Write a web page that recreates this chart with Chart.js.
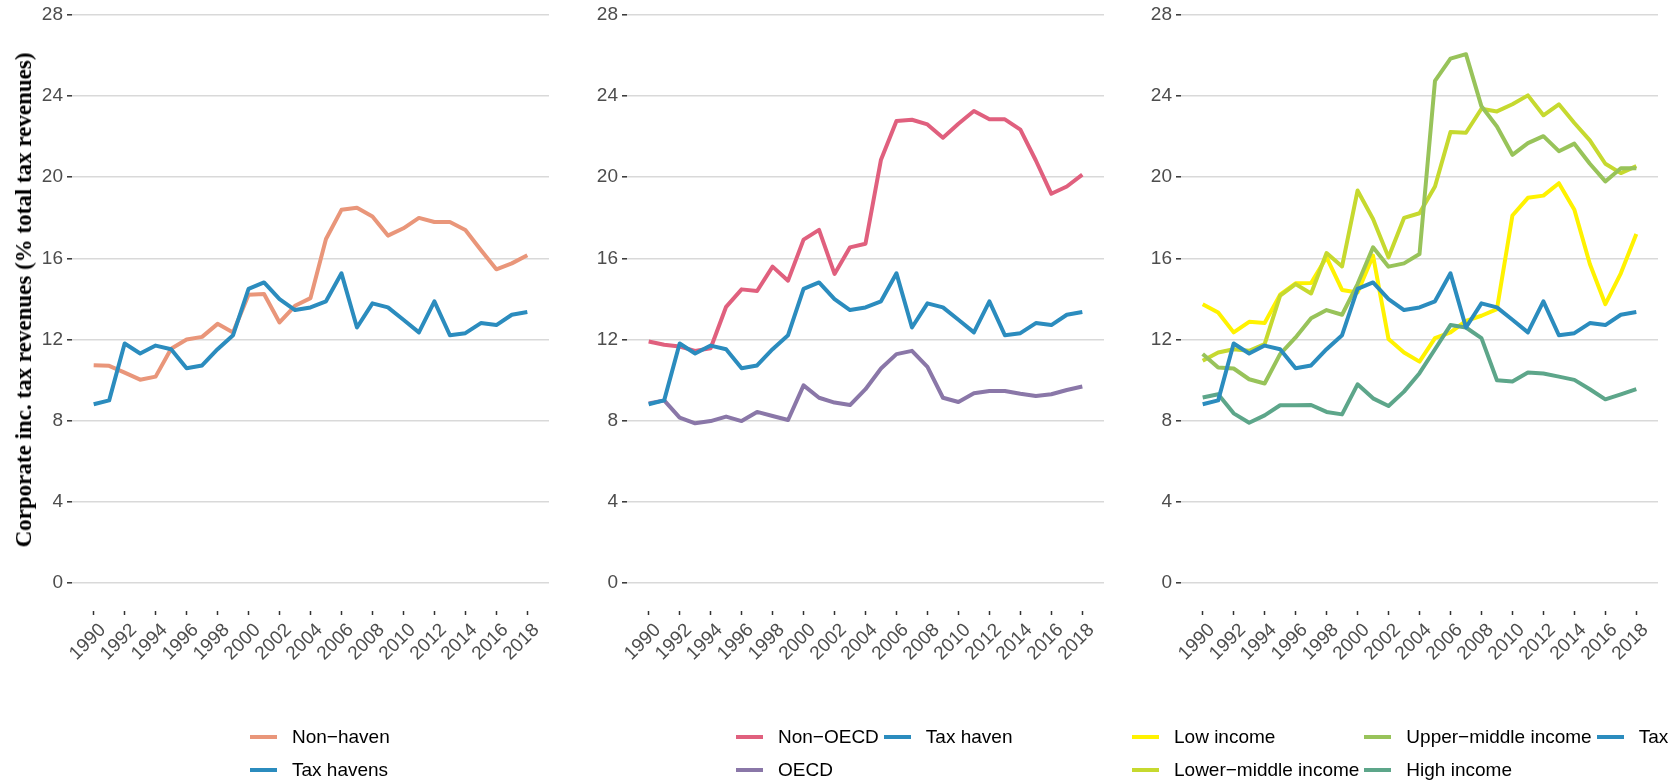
<!DOCTYPE html>
<html>
<head>
<meta charset="utf-8">
<script src="https://cdn.jsdelivr.net/npm/chart.js@4.4.1/dist/chart.umd.min.js"></script>
<style>
  html, body { margin: 0; padding: 0; background: #fff; }
  body { width: 1680px; height: 784px; position: relative; overflow: hidden; font-family: "Liberation Sans", Arial, sans-serif; }
  canvas { position: absolute; top: 0; }
  .ytitle { position: absolute; left: 24px; top: 300px; transform: translate(-50%, -50%) rotate(-90deg);
            font-family: "Liberation Serif", serif; font-weight: bold; font-size: 23px; white-space: nowrap; color: #000; }
  .legend { position: absolute; top: 720px; display: grid; grid-template-rows: 33px 33px; grid-auto-flow: column;
            grid-auto-columns: max-content; column-gap: 5px; font-size: 19px; color: #000; overflow: hidden; }
  .item { display: flex; align-items: center; white-space: nowrap; }
  .swatch { width: 27px; height: 4px; margin-right: 15px; flex: none; }
</style>
</head>
<body>
<canvas id="p1" width="549" height="784" style="left:0px"></canvas>
<canvas id="p2" width="549" height="784" style="left:555px"></canvas>
<canvas id="p3" width="549" height="784" style="left:1109px"></canvas>
<div class="ytitle">Corporate inc. tax revenues (% total tax revenues)</div>
<div class="legend" id="lg1" style="left:250px"></div>
<div class="legend" id="lg2" style="left:736px"></div>
<div class="legend" id="lg3" style="left:1132px; width:537px"></div>
<script>
var years = [1990, 1991, 1992, 1993, 1994, 1995, 1996, 1997, 1998, 1999, 2000, 2001, 2002, 2003, 2004,
             2005, 2006, 2007, 2008, 2009, 2010, 2011, 2012, 2013, 2014, 2015, 2016, 2017, 2018];
var yearTicks = [1990, 1992, 1994, 1996, 1998, 2000, 2002, 2004, 2006, 2008, 2010, 2012, 2014, 2016, 2018];
var yTicks = [0, 4, 8, 12, 16, 20, 24, 28];

// panel 1
var nonHaven = [10.73, 10.70, 10.37, 10.02, 10.17, 11.54, 12.00, 12.13, 12.77, 12.35, 14.20, 14.24, 12.84, 13.66, 14.04,
                16.95, 18.39, 18.49, 18.06, 17.12, 17.48, 17.99, 17.79, 17.79, 17.40, 16.41, 15.46, 15.75, 16.15];
var taxHaven = [8.81, 9.00, 11.80, 11.31, 11.70, 11.52, 10.58, 10.72, 11.52, 12.21, 14.49, 14.81, 13.99, 13.45, 13.58,
                13.88, 15.26, 12.59, 13.78, 13.58, 12.97, 12.35, 13.88, 12.21, 12.31, 12.81, 12.71, 13.22, 13.35];
// panel 2
var nonOecd = [11.90, 11.74, 11.65, 11.44, 11.57, 13.61, 14.47, 14.39, 15.59, 14.90, 16.92, 17.40, 15.23, 16.54, 16.72,
               20.86, 22.77, 22.83, 22.60, 21.94, 22.63, 23.26, 22.85, 22.85, 22.34, 20.82, 19.18, 19.54, 20.12];
var oecd = [8.85, 9.00, 8.15, 7.87, 7.98, 8.20, 7.98, 8.43, 8.23, 8.03, 9.74, 9.13, 8.89, 8.77, 9.55,
            10.57, 11.28, 11.44, 10.65, 9.13, 8.92, 9.35, 9.46, 9.46, 9.33, 9.22, 9.30, 9.51, 9.68];
// panel 3
var lowIncome = [13.74, 13.33, 12.35, 12.87, 12.81, 14.21, 14.77, 14.78, 16.05, 14.44, 14.32, 16.13, 12.02, 11.36, 10.91,
                 12.07, 12.35, 12.92, 13.17, 13.50, 18.11, 18.98, 19.09, 19.70, 18.39, 15.72, 13.74, 15.26, 17.20];
var lowerMiddle = [10.95, 11.36, 11.52, 11.44, 11.77, 14.16, 14.73, 14.27, 16.26, 15.60, 19.34, 17.94, 16.05, 17.99, 18.22,
                   19.54, 22.22, 22.19, 23.37, 23.24, 23.59, 24.03, 23.05, 23.59, 22.67, 21.81, 20.66, 20.20, 20.54];
var upperMiddle = [11.28, 10.62, 10.57, 10.04, 9.83, 11.28, 12.10, 13.05, 13.45, 13.22, 14.73, 16.54, 15.59, 15.75, 16.21,
                   24.74, 25.84, 26.06, 23.49, 22.50, 21.10, 21.68, 22.02, 21.28, 21.65, 20.66, 19.79, 20.44, 20.44];
var highIncome = [9.14, 9.30, 8.36, 7.90, 8.26, 8.76, 8.76, 8.77, 8.43, 8.31, 9.79, 9.10, 8.72, 9.43, 10.34,
                  11.52, 12.71, 12.59, 12.07, 9.99, 9.93, 10.37, 10.32, 10.17, 10.01, 9.55, 9.05, 9.30, 9.55];

var panels = [
    { id: 'p1', legend: 'lg1', series: [
        { label: 'Non\u2212haven', data: nonHaven, color: '#e9967a' },
        { label: 'Tax havens', data: taxHaven, color: '#2b8cbe' }
    ]},
    { id: 'p2', legend: 'lg2', series: [
        { label: 'Non\u2212OECD', data: nonOecd, color: '#e0607e' },
        { label: 'OECD', data: oecd, color: '#8a77a8' },
        { label: 'Tax haven', data: taxHaven, color: '#2b8cbe' }
    ]},
    { id: 'p3', legend: 'lg3', series: [
        { label: 'Low income', data: lowIncome, color: '#fff200' },
        { label: 'Lower\u2212middle income', data: lowerMiddle, color: '#c6d92f' },
        { label: 'Upper\u2212middle income', data: upperMiddle, color: '#98c35a' },
        { label: 'High income', data: highIncome, color: '#5da68a' },
        { label: 'Tax haven', data: taxHaven, color: '#2b8cbe' }
    ]}
];

var tickFont = { family: 'Liberation Sans', size: 19 };

panels.forEach(function (panel) {
    var n = panel.series.length;
    var datasets = panel.series.map(function (s, i) {
        return {
            label: s.label,
            data: years.map(function (yr, k) { return { x: yr, y: s.data[k] }; }),
            borderColor: s.color,
            backgroundColor: s.color,
            borderWidth: 4,
            pointRadius: 0,
            tension: 0,
            borderCapStyle: 'butt',
            borderJoinStyle: 'round',
            order: n - i // last series drawn on top, like ggplot
        };
    });

    new Chart(document.getElementById(panel.id), {
        type: 'line',
        data: { datasets: datasets },
        options: {
            responsive: false,
            animation: false,
            layout: { padding: 0 },
            plugins: {
                legend: { display: false },
                tooltip: { enabled: false }
            },
            scales: {
                x: {
                    type: 'linear',
                    min: 1988.6,
                    max: 2019.4,
                    afterBuildTicks: function (s) { s.ticks = yearTicks.map(function (v) { return { value: v }; }); },
                    afterFit: function (s) { s.height = 173; s.paddingLeft = 0; s.paddingRight = 0; },
                    border: { display: false },
                    grid: {
                        drawOnChartArea: false,
                        drawTicks: true,
                        tickLength: 4,
                        tickColor: '#333333',
                        tickWidth: 1.5
                    },
                    ticks: {
                        autoSkip: false,
                        maxRotation: 45,
                        minRotation: 45,
                        padding: 4,
                        labelOffset: 9,
                        color: '#4d4d4d',
                        font: tickFont,
                        callback: function (v) { return String(v); }
                    }
                },
                y: {
                    min: -1.38,
                    max: 28.73,
                    afterBuildTicks: function (s) { s.ticks = yTicks.map(function (v) { return { value: v }; }); },
                    afterFit: function (s) { s.width = 72; s.paddingTop = 0; s.paddingBottom = 0; },
                    border: { display: false },
                    grid: {
                        color: '#d9d9d9',
                        lineWidth: 1.6,
                        drawTicks: true,
                        tickLength: 5,
                        tickColor: '#333333',
                        tickWidth: 1.5
                    },
                    ticks: {
                        padding: 4,
                        color: '#4d4d4d',
                        font: tickFont
                    }
                }
            }
        }
    });

    // legend, filled column by column in 2 rows
    var box = document.getElementById(panel.legend);
    panel.series.forEach(function (s) {
        var item = document.createElement('div');
        item.className = 'item';
        var sw = document.createElement('span');
        sw.className = 'swatch';
        sw.style.background = s.color;
        var txt = document.createElement('span');
        txt.textContent = s.label;
        item.appendChild(sw);
        item.appendChild(txt);
        box.appendChild(item);
    });
});
</script>
</body>
</html>
